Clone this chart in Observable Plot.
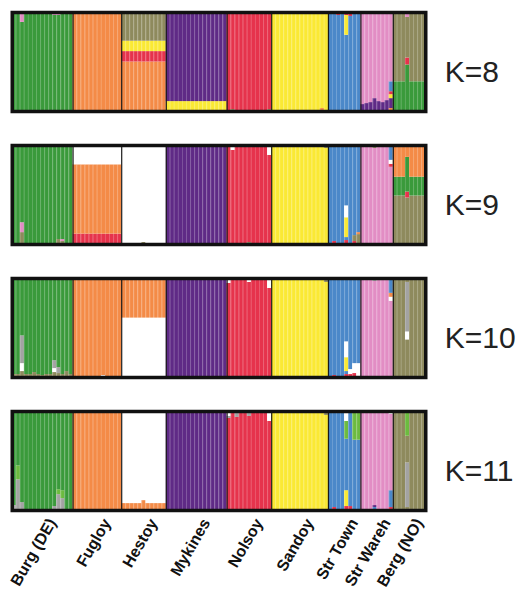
<!DOCTYPE html>
<html><head><meta charset="utf-8">
<script src="https://cdn.jsdelivr.net/npm/d3@7"></script>
<script src="https://cdn.jsdelivr.net/npm/@observablehq/plot@0.6"></script>
<style>body{margin:0;background:#fff}</style>
</head><body><div id="chart"></div>
<script>
const populations = ["Burg (DE)","Fugloy","Hestoy","Mykines","Nolsoy","Sandoy","Str Town","Str Wareh","Berg (NO)"];
const sampleSizes = [15,12,11,15,11,14,8,8,8];
const kLabels = ["K=8","K=9","K=10","K=11"];
const clusterNames = ["cl_green","cl_orange","cl_olive","cl_purple","cl_red","cl_yellow","cl_blue","cl_pink","cl_white","cl_grey","cl_lightgreen"];
const clusterColors = ["#3a9a3b","#f48b47","#8e8a5d","#5f2a86","#e6334c","#fae934","#4b88c9","#e28dc4","#ffffff","#a3a3a3","#6cbb3f"];

// membership profiles: per population, segments bottom -> top
const baseK8 = [
  [["green",1]],
  [["orange",1]],
  [["orange",0.5],["red",0.105],["yellow",0.105],["olive",0.29]],
  [["yellow",0.1],["purple",0.9]],
  [["red",1]],
  [["yellow",1]],
  [["blue",1]],
  [["purple",0.09],["pink",0.91]],
  [["green",0.3],["olive",0.7]]
];
// individual exceptions: [population, individual, segments]
const exceptionsK8 = [
  [0,2,[["green",0.9],["pink",0.1]]],
  [0,10,[["green",0.97],["pink",0.03]]],
  [0,11,[["green",0.97],["pink",0.03]]],
  [4,1,[["olive",0.02],["red",0.98]]],
  [4,10,[["olive",0.02],["red",0.98]]],
  [5,12,[["orange",0.03],["yellow",0.97]]],
  [6,2,[["blue",0.97],["red",0.03]]],
  [6,4,[["blue",0.77],["yellow",0.2],["red",0.03]]],
  [6,5,[["blue",0.96],["red",0.04]]],
  [7,0,[["purple",0.07],["pink",0.93]]],
  [7,1,[["purple",0.08],["pink",0.92]]],
  [7,3,[["purple",0.13],["pink",0.87]]],
  [7,4,[["purple",0.1],["pink",0.9]]],
  [7,6,[["purple",0.11],["pink",0.89]]],
  [7,7,[["orange",0.03],["purple",0.1],["yellow",0.04],["red",0.03],["blue",0.1],["pink",0.7]]],
  [8,3,[["green",0.47],["red",0.07],["olive",0.41],["pink",0.05]]]
];

const baseK9 = [
  [["green",1]],
  [["red",0.105],["orange",0.7],["white",0.195]],
  [["white",1]],
  [["purple",1]],
  [["red",1]],
  [["yellow",1]],
  [["blue",1]],
  [["pink",1]],
  [["olive",0.49],["green",0.19],["orange",0.32]]
];
const exceptionsK9 = [
  [0,1,[["green",0.98],["orange",0.02]]],
  [0,2,[["olive",0.12],["pink",0.1],["green",0.78]]],
  [0,8,[["green",0.98],["orange",0.02]]],
  [0,11,[["olive",0.05],["green",0.95]]],
  [0,12,[["olive",0.03],["pink",0.02],["green",0.95]]],
  [2,5,[["olive",0.02],["white",0.98]]],
  [4,1,[["red",0.95],["white",0.05]]],
  [4,5,[["olive",0.02],["red",0.98]]],
  [4,10,[["red",0.9],["white",0.1]]],
  [5,13,[["yellow",0.97],["olive",0.03]]],
  [6,1,[["red",0.03],["blue",0.97]]],
  [6,4,[["red",0.04],["blue",0.03],["yellow",0.2],["white",0.12],["blue",0.61]]],
  [6,6,[["red",0.03],["olive",0.06],["blue",0.91]]],
  [6,7,[["olive",0.1],["orange",0.02],["blue",0.88]]],
  [7,3,[["pink",0.97],["olive",0.03]]],
  [7,7,[["pink",0.78],["red",0.03],["white",0.04],["blue",0.15]]],
  [8,3,[["olive",0.47],["red",0.06],["green",0.35],["orange",0.12]]]
];

const baseK10 = [
  [["olive",0.03],["green",0.97]],
  [["orange",1]],
  [["white",0.6],["orange",0.4]],
  [["purple",1]],
  [["red",1]],
  [["yellow",1]],
  [["blue",1]],
  [["pink",1]],
  [["olive",1]]
];
const exceptionsK10 = [
  [0,2,[["olive",0.06],["white",0.08],["grey",0.28],["green",0.58]]],
  [0,5,[["olive",0.05],["green",0.95]]],
  [0,7,[["olive",0.02],["green",0.98]]],
  [0,10,[["olive",0.05],["white",0.04],["grey",0.08],["green",0.83]]],
  [0,11,[["olive",0.04],["grey",0.06],["green",0.9]]],
  [0,13,[["olive",0.06],["green",0.94]]],
  [1,7,[["white",0.02],["orange",0.98]]],
  [4,0,[["red",0.95],["white",0.05]]],
  [4,5,[["red",0.96],["white",0.04]]],
  [4,10,[["red",0.9],["white",0.1]]],
  [5,13,[["yellow",0.96],["olive",0.04]]],
  [6,1,[["red",0.02],["blue",0.98]]],
  [6,4,[["red",0.03],["blue",0.03],["yellow",0.14],["white",0.16],["blue",0.64]]],
  [6,5,[["red",0.03],["white",0.05],["blue",0.92]]],
  [6,6,[["red",0.04],["white",0.1],["blue",0.86]]],
  [6,7,[["white",0.14],["blue",0.86]]],
  [7,3,[["pink",0.97],["grey",0.03]]],
  [7,7,[["pink",0.77],["white",0.04],["orange",0.04],["blue",0.15]]],
  [8,3,[["olive",0.38],["white",0.08],["grey",0.5],["olive",0.04]]]
];

const baseK11 = [
  [["green",1]],
  [["orange",1]],
  [["orange",0.07],["white",0.93]],
  [["purple",1]],
  [["red",1]],
  [["yellow",1]],
  [["blue",1]],
  [["pink",1]],
  [["olive",1]]
];
const exceptionsK11 = [
  [0,0,[["grey",0.05],["green",0.95]]],
  [0,1,[["grey",0.31],["lightgreen",0.14],["green",0.55]]],
  [0,2,[["grey",0.08],["green",0.92]]],
  [0,10,[["grey",0.04],["green",0.96]]],
  [0,11,[["grey",0.16],["lightgreen",0.05],["green",0.79]]],
  [0,12,[["grey",0.12],["lightgreen",0.08],["green",0.8]]],
  [2,5,[["orange",0.1],["white",0.9]]],
  [4,0,[["red",0.93],["grey",0.02],["white",0.05]]],
  [4,2,[["red",0.94],["grey",0.06]]],
  [4,5,[["red",0.95],["grey",0.05]]],
  [4,10,[["red",0.9],["white",0.1]]],
  [5,0,[["yellow",0.98],["grey",0.02]]],
  [5,13,[["yellow",0.96],["olive",0.04]]],
  [6,1,[["red",0.03],["blue",0.97]]],
  [6,4,[["red",0.04],["yellow",0.16],["blue",0.52],["lightgreen",0.18],["white",0.1]]],
  [6,5,[["red",0.04],["blue",0.96]]],
  [6,6,[["blue",0.71],["lightgreen",0.27],["grey",0.02]]],
  [6,7,[["blue",0.71],["lightgreen",0.27],["white",0.02]]],
  [7,3,[["blue",0.03],["purple",0.02],["pink",0.95]]],
  [7,7,[["red",0.03],["blue",0.17],["pink",0.77],["white",0.03]]],
  [8,3,[["olive",0.03],["grey",0.45],["olive",0.27],["lightgreen",0.23],["olive",0.02]]]
];

const profiles = {
  "K=8": [baseK8, exceptionsK8],
  "K=9": [baseK9, exceptionsK9],
  "K=10": [baseK10, exceptionsK10],
  "K=11": [baseK11, exceptionsK11]
};

const starts = [0, ...d3.cumsum(sampleSizes)];
const nTotal = d3.sum(sampleSizes);
const rows = [];
kLabels.forEach(K => {
  const [base, exc] = profiles[K];
  populations.forEach((pop, p) => {
    for (let i = 0; i < sampleSizes[p]; i++) {
      const e = exc.find(([pp, ii]) => pp === p && ii === i);
      const segs = e ? e[2] : base[p];
      const tot = d3.sum(segs, s => s[1]);
      segs.forEach(([cluster, v]) => rows.push({K, pop, ind: starts[p] + i, cluster: "cl_" + cluster, value: v / tot}));
    }
  });
});
const popEdges = starts.slice(1, -1);
const indEdges = d3.range(1, nTotal).filter(i => !popEdges.includes(i));
const centers = populations.map((d, i) => starts[i] + sampleSizes[i] / 2);

const chart = Plot.plot({
  width: 523, height: 597,
  marginLeft: 11.75, marginRight: 97.75, marginTop: 10.75, marginBottom: 85.75,
  x: {domain: [0, nTotal], axis: null},
  y: {domain: [0, 1], axis: null},
  fy: {domain: kLabels, axis: null, paddingInner: 0.2575, paddingOuter: 0},
  color: {type: "ordinal", domain: clusterNames, range: clusterColors},
  style: {fontFamily: "'Liberation Sans', Arial, sans-serif", background: "white"},
  marks: [
    Plot.rectY(rows, {x1: "ind", x2: d => d.ind + 1, y: "value", fy: "K", fill: "cluster"}),
    Plot.ruleX(indEdges, {stroke: "white", strokeOpacity: 0.22, strokeWidth: 0.8}),
    Plot.ruleX(popEdges, {stroke: "#1a1a1a", strokeWidth: 1.2}),
    Plot.frame({stroke: "#111", strokeWidth: 3.5}),
    Plot.text(kLabels, {fy: d => d, text: d => d, frameAnchor: "right", textAnchor: "start", dx: 19, dy: 10, fontSize: 30, fill: "#222"}),
    Plot.text(populations, {x: (d, i) => centers[i], fy: () => "K=11", text: d => d, frameAnchor: "bottom", textAnchor: "end", rotate: -60, dx: 14, dy: 12, fontSize: 16, fontWeight: "bold", fill: "#111"})
  ]
});
document.getElementById("chart").appendChild(chart);
</script>
</body></html>
